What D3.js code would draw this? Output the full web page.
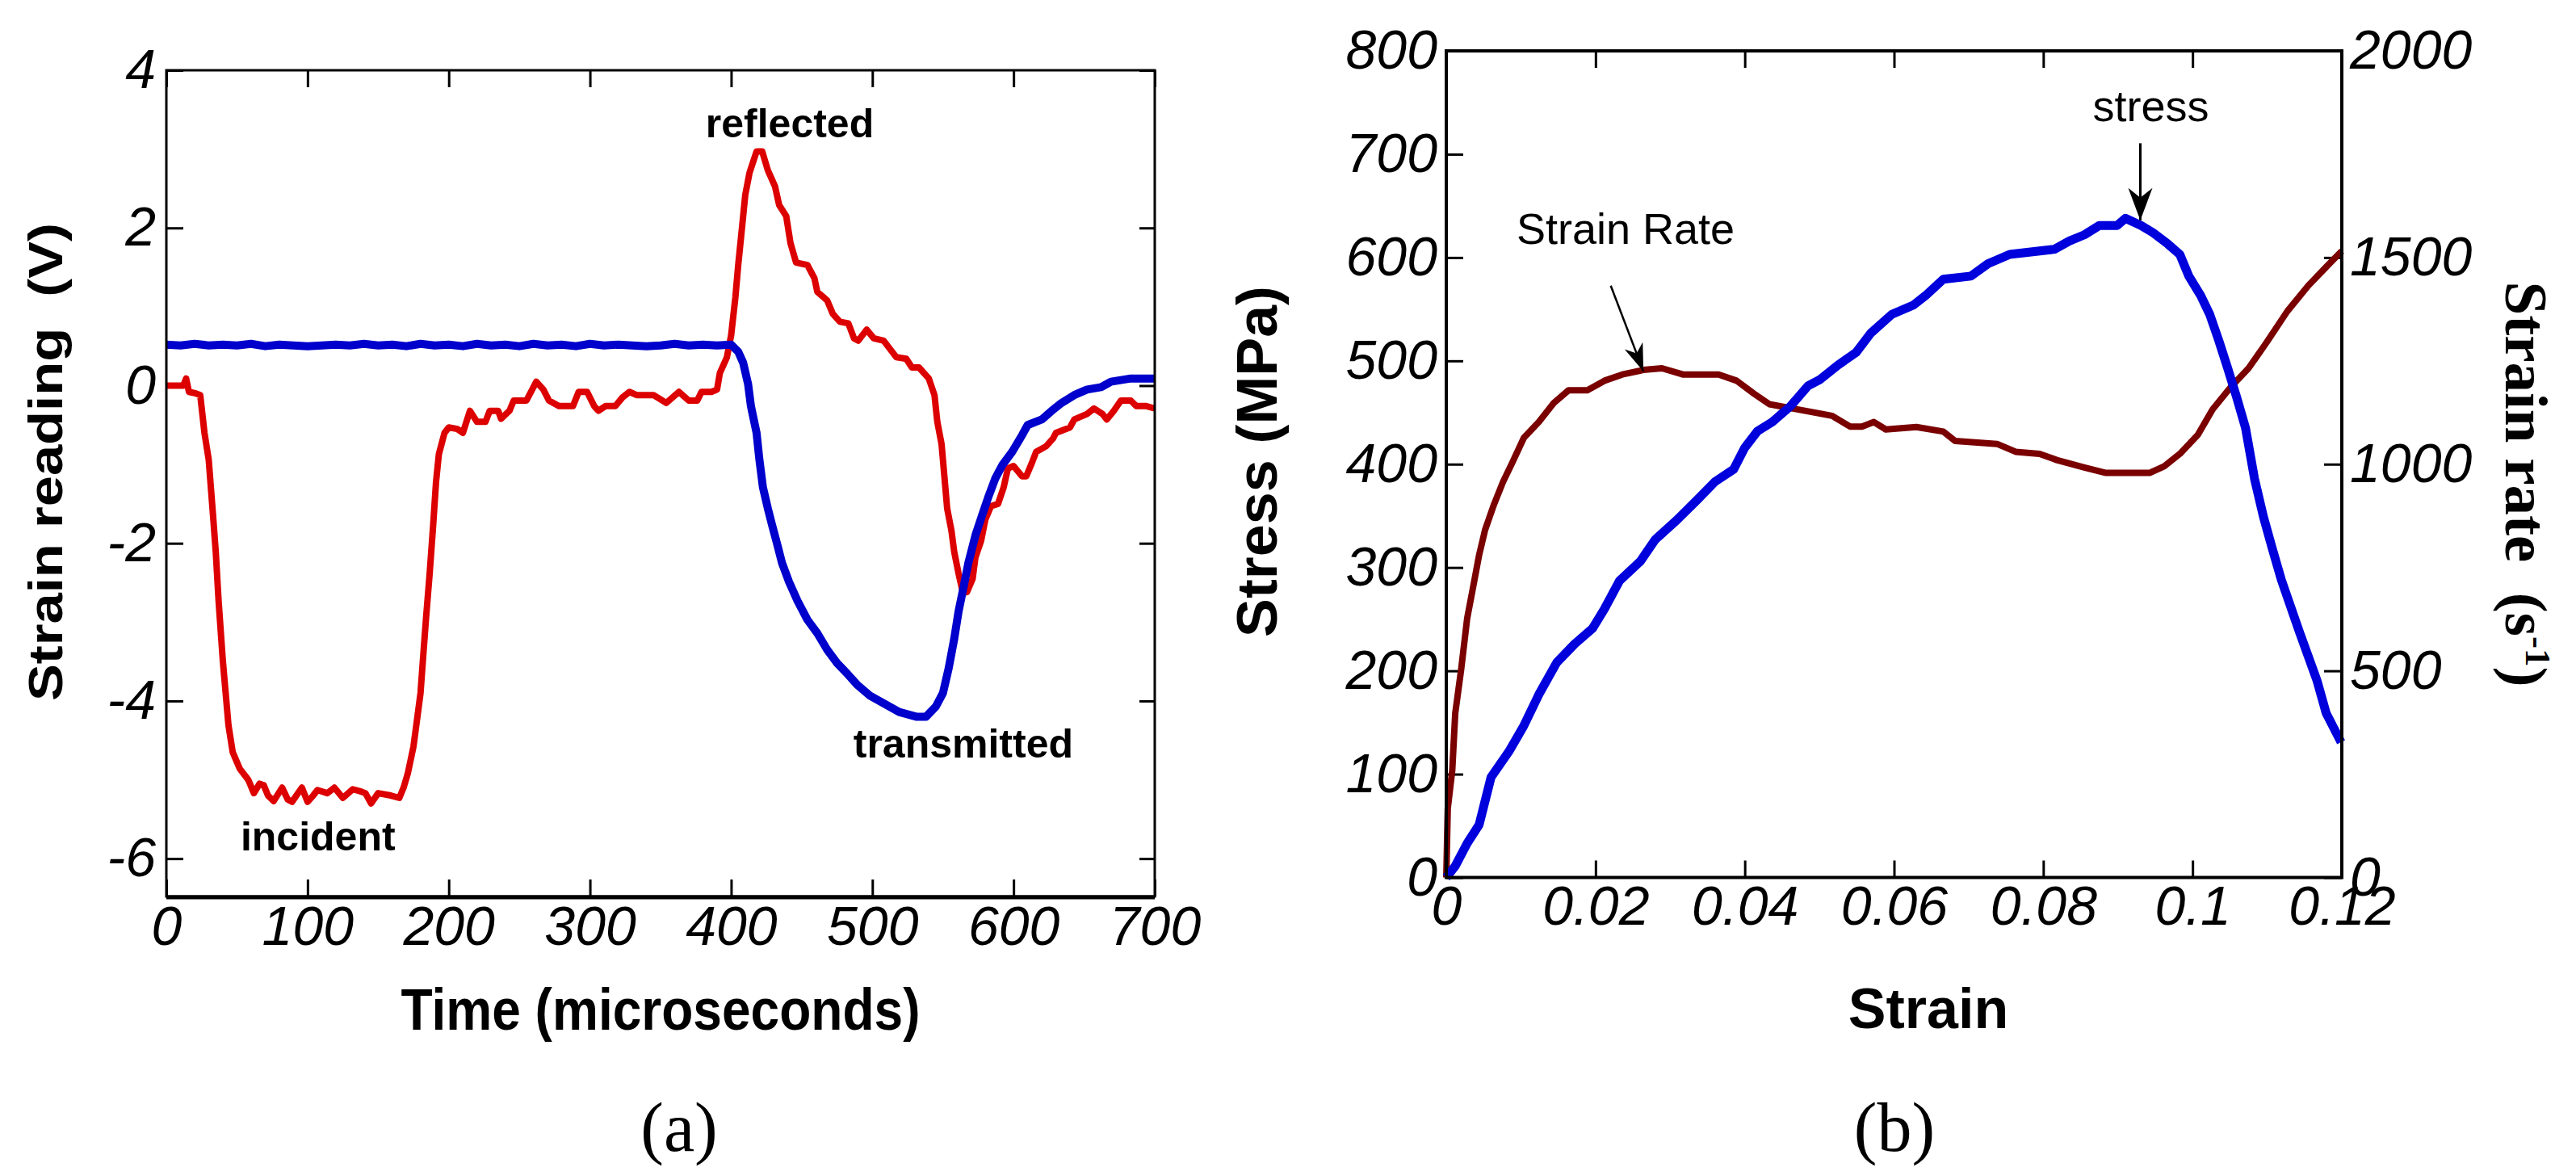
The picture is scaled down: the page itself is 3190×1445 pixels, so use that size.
<!DOCTYPE html>
<html><head><meta charset="utf-8">
<script src="https://cdn.jsdelivr.net/npm/d3@7"></script>
<style>body{margin:0;background:#fff}</style>
</head><body>
<svg id="chart" width="3190" height="1445"></svg>
<script>
// ---------- Panel (a) data ----------
const redTime = [0,6,12,14,16,21,24,27,30,33,35,37,40,42,44,47,52,58,62,66,69,72,76,82,86,89,96,100,104,107,114,119,125,132,138,141,145,150,159,165,168,171,175,177,180,182,184,186.5,189,191,193,197,200,206,210,215,220,226,229,235,237,243,246,255,262,267,271,278,288,292,298,303,306,311,318,323,328,333,345,354,363,370,376,379,386,390,392,397,400,403,405,407,410,413,418,422,426,431,434,439,442,446,454,459,461,468,472,477,483,487,490,496,501,508,517,524,528,533,540,544,546,549,551,553,556,558,561,564,567,571,573,577,580,584,589,593,596,600,606,609,613,616,623,628,630,640,643,652,657,663,666,671,676,683,687,694,700];
const redVolt = [0,0,0,0.09,-0.08,-0.1,-0.12,-0.6,-0.94,-1.63,-2.11,-2.73,-3.49,-3.9,-4.31,-4.65,-4.86,-5.0,-5.17,-5.05,-5.07,-5.2,-5.27,-5.1,-5.25,-5.28,-5.1,-5.28,-5.2,-5.13,-5.17,-5.1,-5.23,-5.12,-5.15,-5.17,-5.3,-5.17,-5.2,-5.23,-5.1,-4.92,-4.58,-4.31,-3.9,-3.41,-2.93,-2.38,-1.76,-1.22,-0.87,-0.6,-0.53,-0.55,-0.6,-0.32,-0.46,-0.46,-0.32,-0.32,-0.42,-0.32,-0.19,-0.19,0.05,-0.05,-0.19,-0.26,-0.26,-0.08,-0.08,-0.26,-0.32,-0.26,-0.26,-0.15,-0.08,-0.12,-0.12,-0.22,-0.08,-0.19,-0.19,-0.08,-0.08,-0.05,0.16,0.36,0.64,1.12,1.53,1.88,2.42,2.7,2.97,2.97,2.73,2.53,2.29,2.15,1.81,1.56,1.53,1.36,1.19,1.08,0.91,0.81,0.79,0.6,0.57,0.71,0.6,0.57,0.36,0.34,0.23,0.23,0.09,-0.12,-0.46,-0.74,-1.15,-1.56,-1.84,-2.11,-2.38,-2.62,-2.62,-2.45,-2.18,-1.97,-1.7,-1.53,-1.5,-1.29,-1.05,-1.02,-1.15,-1.15,-0.98,-0.84,-0.77,-0.67,-0.6,-0.53,-0.43,-0.36,-0.29,-0.36,-0.43,-0.32,-0.19,-0.19,-0.26,-0.26,-0.29];
const blueTime = [0,10,20,30,40,50,60,70,80,90,100,110,120,130,140,150,160,170,180,190,200,210,220,230,240,250,260,270,280,290,300,310,320,330,340,350,360,370,380,390,400,405,408.5,412,414,418,420,422.5,426,429,433,436,441,447,454,461,468,475,482,489,498,508,519,531,538,545,550,554,558,561,565,568,573,578,582,587,592,599,606,610,620,627,634,643,652,662,669,683,700];
const blueVolt = [0.52,0.51,0.53,0.51,0.52,0.51,0.53,0.5,0.52,0.51,0.5,0.51,0.52,0.51,0.53,0.51,0.52,0.5,0.53,0.51,0.52,0.5,0.53,0.51,0.52,0.5,0.53,0.51,0.52,0.5,0.53,0.51,0.52,0.51,0.5,0.51,0.53,0.51,0.52,0.51,0.52,0.43,0.29,0.02,-0.26,-0.6,-0.94,-1.29,-1.56,-1.77,-2.04,-2.25,-2.49,-2.73,-2.97,-3.14,-3.35,-3.52,-3.65,-3.79,-3.93,-4.03,-4.14,-4.2,-4.2,-4.07,-3.9,-3.59,-3.21,-2.87,-2.52,-2.25,-1.9,-1.63,-1.42,-1.18,-1.01,-0.84,-0.63,-0.5,-0.43,-0.32,-0.22,-0.12,-0.05,-0.02,0.05,0.09,0.09];
const timeTicks = [0,100,200,300,400,500,600,700];
const timeTickLabels = ["0","100","200","300","400","500","600","700"];
const voltTicks = [-6,-4,-2,0,2,4];
const voltTickLabels = ["-6","-4","-2","0","2","4"];

// ---------- Panel (b) data ----------
const stressStrain = [0,0.0012,0.0028,0.0044,0.006,0.0084,0.0104,0.0124,0.0148,0.0172,0.0196,0.0212,0.0232,0.026,0.028,0.0309,0.0337,0.036,0.0385,0.04,0.0417,0.0437,0.0461,0.0485,0.0501,0.0525,0.0549,0.0569,0.0597,0.0626,0.0642,0.0666,0.0703,0.0726,0.0755,0.0815,0.0835,0.0855,0.0875,0.0899,0.091,0.0931,0.0947,0.0967,0.0983,0.0995,0.1011,0.1023,0.1035,0.1047,0.1059,0.1071,0.1083,0.1095,0.1107,0.1119,0.1131,0.1143,0.1155,0.1167,0.1179,0.1199];
const stressMPa = [0,11,33,51,97,122,147,177,208,226,241,260,287,306,327,346,366,383,395,416,432,441,456,476,482,496,508,527,545,554,563,579,582,594,603,608,616,622,631,631,638,631,624,613,603,582,563,545,520,493,465,435,386,349,318,288,263,238,214,190,159,131];
const rateStrain = [0,0.0002,0.0008,0.0012,0.002,0.0028,0.0036,0.0044,0.0052,0.0064,0.0076,0.0088,0.0104,0.0124,0.0144,0.0164,0.0189,0.0212,0.0236,0.0264,0.0289,0.0317,0.0365,0.0389,0.0412,0.0433,0.0469,0.0517,0.0541,0.0557,0.0573,0.0589,0.063,0.0666,0.0682,0.0738,0.0763,0.0795,0.0818,0.0855,0.0883,0.0943,0.0962,0.0983,0.1007,0.1027,0.1051,0.1075,0.1099,0.1127,0.1155,0.1179,0.12];
const strainRate = [0,167,259,397,504,627,703,780,841,903,957,1002,1064,1102,1148,1179,1179,1202,1217,1228,1232,1217,1217,1202,1171,1145,1133,1117,1091,1091,1102,1084,1090,1079,1056,1049,1030,1025,1010,992,979,979,995,1025,1071,1133,1186,1232,1294,1370,1432,1477,1516];
const strainTicks = [0,0.02,0.04,0.06,0.08,0.1,0.12];
const strainTickLabels = ["0","0.02","0.04","0.06","0.08","0.1","0.12"];
const stressTicks = [0,100,200,300,400,500,600,700,800];
const rateTicks = [0,500,1000,1500,2000];

// ---------- drawing ----------
const SANS = "'Liberation Sans', Arial, Helvetica, sans-serif";
const SERIF = "'Liberation Serif', 'Times New Roman', serif";
const svg = d3.select("#chart");
svg.append("rect").attr("width",3190).attr("height",1445).attr("fill","#fff");

function styleAxis(g){
  g.select(".domain").remove();
  g.selectAll("line").attr("stroke","#000").attr("stroke-width",3);
  g.selectAll("text").attr("font-family",SANS).attr("font-style","italic")
    .attr("font-size",68).attr("fill","#000");
}

// ===== Panel (a) =====
const A = {l:206, r:1430, t:87, b:1110};
const xA = d3.scaleLinear().domain([0,700]).range([A.l,A.r]);
const yA = d3.scaleLinear().domain([-6.48,4]).range([A.b,A.t]);
const gA = svg.append("g");

gA.append("g").attr("transform",`translate(0,${A.b})`)
  .call(d3.axisBottom(xA).tickValues(timeTicks).tickFormat((d,i)=>timeTickLabels[i]).tickSize(-21).tickPadding(12))
  .call(styleAxis);
gA.append("g").attr("transform",`translate(0,${A.t})`)
  .call(d3.axisTop(xA).tickValues(timeTicks).tickFormat("").tickSize(-21))
  .call(styleAxis);
gA.append("g").attr("transform",`translate(${A.l},0)`)
  .call(d3.axisLeft(yA).tickValues(voltTicks).tickFormat((d,i)=>voltTickLabels[i]).tickSize(-21).tickPadding(13))
  .call(styleAxis);
gA.append("g").attr("transform",`translate(${A.r},0)`)
  .call(d3.axisRight(yA).tickValues(voltTicks).tickFormat("").tickSize(-19))
  .call(styleAxis);

const lineA = d3.line().x(d=>xA(d[0])).y(d=>yA(d[1]));
gA.append("path").datum(d3.zip(redTime,redVolt)).attr("d",lineA)
  .attr("fill","none").attr("stroke","#dd0000").attr("stroke-width",8).attr("stroke-linejoin","round");
gA.append("path").datum(d3.zip(blueTime,blueVolt)).attr("d",lineA)
  .attr("fill","none").attr("stroke","#0000cc").attr("stroke-width",10).attr("stroke-linejoin","round");

gA.append("rect").attr("x",A.l).attr("y",A.t).attr("width",A.r-A.l).attr("height",A.b-A.t)
  .attr("fill","none").attr("stroke","#000").attr("stroke-width",3);
gA.append("line").attr("x1",A.l).attr("x2",A.r).attr("y1",A.b+1).attr("y2",A.b+1)
  .attr("stroke","#000").attr("stroke-width",5);

function annot(g,x,y,txt,size,weight){
  return g.append("text").attr("x",x).attr("y",y).attr("text-anchor","middle")
    .attr("font-family",SANS).attr("font-size",size).attr("font-weight",weight).attr("fill","#000").text(txt);
}
annot(gA, xA(441.5), yA(3.15), "reflected", 50, "bold");
annot(gA, xA(107.4), yA(-5.9), "incident", 50, "bold");
annot(gA, xA(564.4), yA(-4.72), "transmitted", 50, "bold");

gA.append("text").attr("x",(A.l+A.r)/2).attr("y",1275).attr("text-anchor","middle")
  .attr("font-family",SANS).attr("font-weight","bold").attr("font-size",72)
  .attr("textLength",643).attr("lengthAdjust","spacingAndGlyphs").text("Time (microseconds)");
gA.append("text").attr("transform","translate(77,572) rotate(-90)").attr("text-anchor","middle")
  .attr("font-family",SANS).attr("font-weight","bold").attr("font-size",60)
  .attr("textLength",592).attr("lengthAdjust","spacingAndGlyphs").text("Strain reading\u00a0 (V)");
gA.append("text").attr("x",841).attr("y",1425).attr("text-anchor","middle")
  .attr("font-family",SERIF).attr("font-size",86).text("(a)");

// ===== Panel (b) =====
const B = {l:1791, r:2900, t:63, b:1086.5};
const xB = d3.scaleLinear().domain([0,0.12]).range([B.l,B.r]);
const yB = d3.scaleLinear().domain([0,800]).range([B.b,B.t]);
const yR = d3.scaleLinear().domain([0,2000]).range([B.b,B.t]);
const gB = svg.append("g");

gB.append("g").attr("transform",`translate(0,${B.b})`)
  .call(d3.axisBottom(xB).tickValues(strainTicks).tickFormat((d,i)=>strainTickLabels[i]).tickSize(-21).tickPadding(10))
  .call(styleAxis);
gB.append("g").attr("transform",`translate(0,${B.t})`)
  .call(d3.axisTop(xB).tickValues(strainTicks).tickFormat("").tickSize(-21))
  .call(styleAxis);
gB.append("g").attr("transform",`translate(${B.l},0)`)
  .call(d3.axisLeft(yB).tickValues(stressTicks).tickFormat(d=>String(d)).tickSize(-21).tickPadding(11))
  .call(styleAxis);
gB.append("g").attr("transform",`translate(${B.r},0)`)
  .call(d3.axisRight(yR).tickValues(rateTicks).tickFormat(d=>String(d)).tickSize(-22).tickPadding(10))
  .call(styleAxis);

gB.append("path").datum(d3.zip(rateStrain,strainRate))
  .attr("d",d3.line().x(d=>xB(d[0])).y(d=>yR(d[1])))
  .attr("fill","none").attr("stroke","#7a0000").attr("stroke-width",8).attr("stroke-linejoin","round");
gB.append("path").datum(d3.zip(stressStrain,stressMPa))
  .attr("d",d3.line().x(d=>xB(d[0])).y(d=>yB(d[1])))
  .attr("fill","none").attr("stroke","#0000dd").attr("stroke-width",11).attr("stroke-linejoin","round");

gB.append("rect").attr("x",B.l).attr("y",B.t).attr("width",B.r-B.l).attr("height",B.b-B.t)
  .attr("fill","none").attr("stroke","#000").attr("stroke-width",4);

function arrow(g,x1,y1,x2,y2,len,half,notch,sw){
  g.append("line").attr("x1",x1).attr("y1",y1).attr("x2",x2).attr("y2",y2)
    .attr("stroke","#000").attr("stroke-width",sw);
  const dx=x2-x1, dy=y2-y1, L=Math.hypot(dx,dy), ux=dx/L, uy=dy/L, px=-uy, py=ux;
  const bx=x2-ux*len, by=y2-uy*len, nx=x2-ux*notch, ny=y2-uy*notch;
  g.append("path").attr("d",`M${x2},${y2}L${bx+px*half},${by+py*half}L${nx},${ny}L${bx-px*half},${by-py*half}Z`)
    .attr("fill","#000");
}
annot(gB, xB(0.02403), yB(613), "Strain Rate", 54, "normal");
arrow(gB, xB(0.02204), yB(572.7), xB(0.02642), yB(489.8), 34, 12, 24, 2.5);
annot(gB, xB(0.0944), yB(732), "stress", 54, "normal");
arrow(gB, xB(0.093), yB(710.6), xB(0.093), yB(636), 40, 15, 28, 3);

gB.append("text").attr("x",2388).attr("y",1273).attr("text-anchor","middle")
  .attr("font-family",SANS).attr("font-weight","bold").attr("font-size",70).text("Strain");
gB.append("text").attr("transform","translate(1581,571.5) rotate(-90)").attr("text-anchor","middle")
  .attr("font-family",SANS).attr("font-weight","bold").attr("font-size",70)
  .attr("textLength",435).attr("lengthAdjust","spacingAndGlyphs").text("Stress (MPa)");
const rl = gB.append("text").attr("transform","translate(3103,599.5) rotate(90)").attr("text-anchor","middle")
  .attr("font-family",SERIF).attr("font-weight","bold").attr("font-size",75);
rl.append("tspan").text("Strain rate\u00a0 (s");
rl.append("tspan").attr("baseline-shift","super").attr("font-size",45).text("-1");
rl.append("tspan").text(")");
gB.append("text").attr("x",2346).attr("y",1425).attr("text-anchor","middle")
  .attr("font-family",SERIF).attr("font-size",86).text("(b)");
</script>
</body></html>
